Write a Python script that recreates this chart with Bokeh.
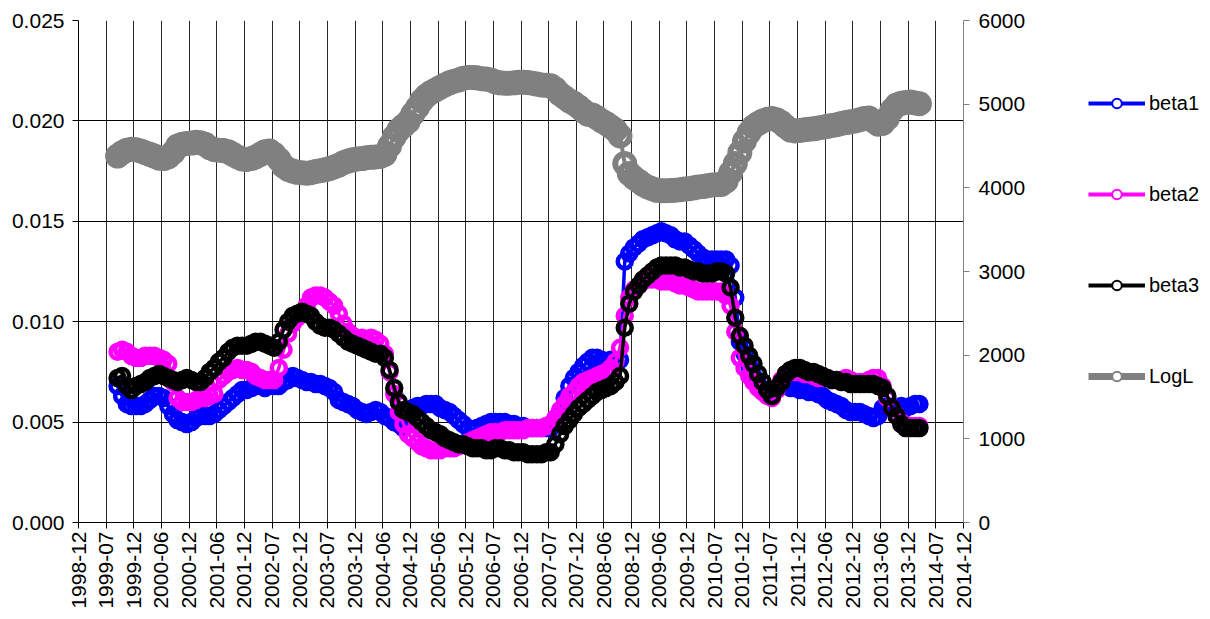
import math

import pandas as pd
from bokeh.embed import file_html
from bokeh.layouts import row
from bokeh.models import (ColumnDataSource, CustomJSTickFormatter, FixedTicker,
                          Legend, LegendItem, LinearAxis, NumeralTickFormatter,
                          Range1d)
from bokeh.plotting import figure
from bokeh.resources import INLINE

FONT = "Liberation Sans"

# time axis: 1998-12-31 .. 2014-12-31, 32 equal steps
AXIS_START = pd.Timestamp("1998-12-31")
AXIS_END = pd.Timestamp("2014-12-31")
x_tick_labels = [
    "1998-12", "1999-07", "1999-12", "2000-06", "2000-12", "2001-06", "2001-12",
    "2002-07", "2002-12", "2003-07", "2003-12", "2004-06", "2004-12", "2005-06",
    "2005-12", "2006-07", "2006-12", "2007-07", "2007-12", "2008-06", "2008-12",
    "2009-06", "2009-12", "2010-07", "2010-12", "2011-07", "2011-12", "2012-06",
    "2012-12", "2013-06", "2013-12", "2014-07", "2014-12",
]
left_ticks = [0.0, 0.005, 0.01, 0.015, 0.02, 0.025]
right_ticks = [0, 1000, 2000, 3000, 4000, 5000, 6000]

# monthly estimates, Sep 1999 .. Mar 2014
months = pd.date_range("1999-09-01", "2014-03-01", freq="MS") + pd.Timedelta(days=14)

beta1 = [
    0.0068, 0.0063, 0.0059, 0.0058,
    0.0058, 0.0058, 0.0059, 0.0061, 0.0063, 0.0063, 0.0062, 0.0058, 0.0054, 0.0051, 0.0050, 0.0049,
    0.0050, 0.0052, 0.0053, 0.0053, 0.0053, 0.0054, 0.0056, 0.0058, 0.0060, 0.0062, 0.0064, 0.0066,
    0.0066, 0.0067, 0.0068, 0.0068, 0.0067, 0.0069, 0.0068, 0.0068, 0.0070, 0.0071, 0.0073, 0.0072,
    0.0071, 0.0070, 0.0070, 0.0069, 0.0069, 0.0068, 0.0067, 0.0065, 0.0061, 0.0060, 0.0059, 0.0058,
    0.0056, 0.0055, 0.0054, 0.0055, 0.0056, 0.0055, 0.0053, 0.0052, 0.0050, 0.0049, 0.0047, 0.0052,
    0.0057, 0.0058, 0.0058, 0.0059, 0.0059, 0.0059, 0.0057, 0.0056, 0.0055, 0.0053, 0.0051, 0.0049,
    0.0047, 0.0046, 0.0047, 0.0048, 0.0049, 0.0050, 0.0050, 0.0050, 0.0050, 0.0049, 0.0049, 0.0048,
    0.0048, 0.0047, 0.0047, 0.0047, 0.0047, 0.0047, 0.0047, 0.0049, 0.0055, 0.0062, 0.0068, 0.0072,
    0.0075, 0.0078, 0.0080, 0.0082, 0.0082, 0.0081, 0.0080, 0.0081, 0.0080, 0.0081, 0.0130, 0.0134,
    0.0137, 0.0139, 0.0141, 0.0142, 0.0143, 0.0144, 0.0145, 0.0144, 0.0143, 0.0141, 0.0140, 0.0140,
    0.0138, 0.0136, 0.0134, 0.0132, 0.0131, 0.0131, 0.0131, 0.0131, 0.0131, 0.0128, 0.0112, 0.0090,
    0.0084, 0.0078, 0.0073, 0.0069, 0.0066, 0.0064, 0.0063, 0.0066, 0.0068, 0.0068, 0.0067, 0.0067,
    0.0066, 0.0066, 0.0065, 0.0065, 0.0064, 0.0063, 0.0061, 0.0060, 0.0059, 0.0058, 0.0056, 0.0055,
    0.0055, 0.0055, 0.0054, 0.0053, 0.0052, 0.0053, 0.0057, 0.0058, 0.0057, 0.0057, 0.0058, 0.0057,
    0.0058, 0.0059, 0.0059,
]

beta2 = [
    0.0085, 0.0086, 0.0085, 0.0083,
    0.0082, 0.0082, 0.0083, 0.0083, 0.0083, 0.0082, 0.0081, 0.0079, 0.0070, 0.0062, 0.0060, 0.0060,
    0.0060, 0.0061, 0.0062, 0.0062, 0.0063, 0.0064, 0.0071, 0.0073, 0.0075, 0.0076, 0.0077, 0.0076,
    0.0076, 0.0075, 0.0073, 0.0072, 0.0071, 0.0071, 0.0071, 0.0077, 0.0086, 0.0094, 0.0099, 0.0102,
    0.0104, 0.0108, 0.0112, 0.0113, 0.0113, 0.0112, 0.0110, 0.0108, 0.0104, 0.0099, 0.0095, 0.0093,
    0.0092, 0.0092, 0.0091, 0.0092, 0.0091, 0.0089, 0.0084, 0.0075, 0.0064, 0.0055, 0.0049, 0.0044,
    0.0042, 0.0040, 0.0038, 0.0037, 0.0036, 0.0036, 0.0036, 0.0037, 0.0037, 0.0037, 0.0038, 0.0039,
    0.0040, 0.0041, 0.0042, 0.0043, 0.0044, 0.0045, 0.0045, 0.0045, 0.0046, 0.0046, 0.0046, 0.0046,
    0.0046, 0.0047, 0.0047, 0.0047, 0.0047, 0.0048, 0.0049, 0.0052, 0.0056, 0.0059, 0.0063, 0.0065,
    0.0068, 0.0070, 0.0071, 0.0072, 0.0073, 0.0074, 0.0075, 0.0077, 0.0080, 0.0087, 0.0103, 0.0112,
    0.0116, 0.0118, 0.0120, 0.0121, 0.0121, 0.0121, 0.0120, 0.0120, 0.0120, 0.0119, 0.0118, 0.0118,
    0.0117, 0.0116, 0.0115, 0.0115, 0.0115, 0.0115, 0.0115, 0.0115, 0.0113, 0.0108, 0.0095, 0.0082,
    0.0077, 0.0073, 0.0070, 0.0067, 0.0065, 0.0063, 0.0062, 0.0066, 0.0071, 0.0074, 0.0075, 0.0075,
    0.0075, 0.0074, 0.0074, 0.0073, 0.0072, 0.0072, 0.0072, 0.0071, 0.0071, 0.0071, 0.0072, 0.0071,
    0.0070, 0.0070, 0.0070, 0.0071, 0.0072, 0.0072, 0.0068, 0.0062, 0.0057, 0.0053, 0.0050, 0.0048,
    0.0048, 0.0048, 0.0048,
]

beta3 = [
    0.0072, 0.0073, 0.0068, 0.0066,
    0.0068, 0.0069, 0.0070, 0.0072, 0.0073, 0.0074, 0.0073, 0.0072, 0.0071, 0.0070, 0.0071, 0.0072,
    0.0071, 0.0070, 0.0070, 0.0072, 0.0075, 0.0077, 0.0080, 0.0082, 0.0085, 0.0087, 0.0088, 0.0088,
    0.0088, 0.0089, 0.0090, 0.0090, 0.0089, 0.0088, 0.0087, 0.0090, 0.0096, 0.0100, 0.0103, 0.0104,
    0.0105, 0.0104, 0.0103, 0.0100, 0.0098, 0.0097, 0.0097, 0.0096, 0.0094, 0.0092, 0.0090, 0.0089,
    0.0088, 0.0087, 0.0086, 0.0085, 0.0084, 0.0084, 0.0082, 0.0076, 0.0067, 0.0060, 0.0056, 0.0055,
    0.0054, 0.0052, 0.0050, 0.0048, 0.0046, 0.0045, 0.0044, 0.0042, 0.0041, 0.0040, 0.0039, 0.0039,
    0.0038, 0.0037, 0.0037, 0.0037, 0.0036, 0.0036, 0.0037, 0.0037, 0.0036, 0.0036, 0.0035, 0.0035,
    0.0035, 0.0034, 0.0034, 0.0034, 0.0034, 0.0035, 0.0035, 0.0039, 0.0044, 0.0048, 0.0051, 0.0054,
    0.0057, 0.0059, 0.0061, 0.0063, 0.0065, 0.0066, 0.0067, 0.0068, 0.0070, 0.0073, 0.0097, 0.0109,
    0.0115, 0.0118, 0.0121, 0.0123, 0.0125, 0.0127, 0.0128, 0.0128, 0.0128, 0.0128, 0.0127, 0.0127,
    0.0126, 0.0125, 0.0125, 0.0124, 0.0124, 0.0124, 0.0125, 0.0125, 0.0124, 0.0117, 0.0102, 0.0093,
    0.0088, 0.0083, 0.0079, 0.0074, 0.0070, 0.0066, 0.0063, 0.0067, 0.0070, 0.0074, 0.0076, 0.0077,
    0.0077, 0.0076, 0.0075, 0.0075, 0.0074, 0.0073, 0.0072, 0.0071, 0.0071, 0.0070, 0.0070, 0.0069,
    0.0069, 0.0069, 0.0069, 0.0069, 0.0069, 0.0068, 0.0067, 0.0063, 0.0057, 0.0053, 0.0049, 0.0047,
    0.0047, 0.0047, 0.0047,
]

logl = [
    4380, 4420, 4450, 4460,
    4455, 4440, 4420, 4400, 4380, 4355, 4350, 4370, 4420, 4500, 4520, 4530,
    4535, 4545, 4540, 4520, 4480, 4455, 4450, 4445, 4430, 4400, 4370, 4345,
    4340, 4350, 4370, 4400, 4430, 4440, 4400, 4340, 4260, 4220, 4200, 4185,
    4180, 4175, 4180, 4195, 4205, 4215, 4230, 4250, 4270, 4300, 4320, 4335,
    4345, 4350, 4360, 4365, 4370, 4375, 4400, 4500, 4610, 4690, 4740, 4790,
    4880, 4960, 5040, 5100, 5140, 5170, 5200, 5230, 5255, 5275, 5290, 5310,
    5320, 5320, 5315, 5305, 5300, 5290, 5265, 5255, 5250, 5250, 5255, 5262,
    5262, 5258, 5250, 5240, 5230, 5225, 5220, 5180, 5120, 5080, 5040, 5010,
    4970, 4920, 4880, 4870, 4840, 4800, 4770, 4730, 4690, 4620, 4290, 4170,
    4120, 4080, 4040, 4010, 3990, 3970, 3965, 3965, 3968, 3972, 3978, 3985,
    3990, 4000, 4010, 4015, 4025, 4035, 4038, 4040, 4080, 4180, 4290, 4420,
    4560, 4660, 4730, 4770, 4800, 4820, 4830, 4815, 4780, 4730, 4690, 4680,
    4685, 4695, 4700, 4705, 4715, 4725, 4735, 4745, 4755, 4770, 4780, 4790,
    4800, 4815, 4830, 4835, 4800, 4760, 4770, 4830, 4930, 4990, 5010, 5020,
    5025, 5015, 5005,
]

# x positions in days since the axis origin
span_days = (AXIS_END - AXIS_START).days
tick_step = span_days / (len(x_tick_labels) - 1)
x_ticks = [i * tick_step for i in range(len(x_tick_labels))]
days = [(d - AXIS_START).days for d in months]

source = ColumnDataSource(dict(x=days, beta1=beta1, beta2=beta2, beta3=beta3, logl=logl))

# main chart (left part of the page)
p = figure(
    width=1030, height=619, output_backend="svg", toolbar_location=None,
    x_range=Range1d(0, span_days), y_range=Range1d(0, 0.025),
    min_border_left=78, min_border_right=67, min_border_top=20, min_border_bottom=97,
)
p.extra_y_ranges = {"logl": Range1d(0, 6000)}
p.background_fill_color = "white"
p.border_fill_color = "white"
p.outline_line_color = None

# grid
p.xgrid.ticker = FixedTicker(ticks=x_ticks)
p.xgrid.grid_line_color = "#2a2a2a"
p.xgrid.grid_line_width = 1
p.ygrid.ticker = FixedTicker(ticks=left_ticks)
p.ygrid.grid_line_color = "black"
p.ygrid.grid_line_width = 1


def style_axis(ax, color="black"):
    ax.axis_line_color = color
    ax.axis_line_width = 1
    ax.major_tick_line_color = color
    ax.major_tick_out = 6
    ax.major_tick_in = 0
    ax.minor_tick_line_color = None
    ax.major_label_text_font = FONT
    ax.major_label_text_font_size = "21px"
    ax.major_label_text_color = "black"


xax = p.xaxis[0]
xax.ticker = FixedTicker(ticks=x_ticks)
xax.formatter = CustomJSTickFormatter(
    args=dict(labels=x_tick_labels, step=tick_step),
    code="return labels[Math.round(tick / step)];",
)
xax.major_label_orientation = math.pi / 2
xax.major_label_standoff = 3
style_axis(xax)

yax = p.yaxis[0]
yax.ticker = FixedTicker(ticks=left_ticks)
yax.formatter = NumeralTickFormatter(format="0.000")
yax.major_label_standoff = 8
style_axis(yax)

rax = LinearAxis(y_range_name="logl", ticker=FixedTicker(ticks=right_ticks),
                 formatter=NumeralTickFormatter(format="0"))
rax.major_label_standoff = 9
style_axis(rax, "#808080")
p.add_layout(rax, "right")

# legend panel (right part of the page)
key_fig = figure(
    width=180, height=619, output_backend="svg", toolbar_location=None,
    x_range=Range1d(0, 1), y_range=Range1d(0, 1),
    x_axis_location=None, y_axis_location=None, min_border=0,
)
key_fig.grid.visible = False
key_fig.outline_line_color = None
key_fig.background_fill_color = "white"
key_fig.border_fill_color = "white"

series = [
    ("beta1", "beta1", "#0000FF", "default", 14, 4.5, 3.5, 4),
    ("beta2", "beta2", "#FF00FF", "default", 14, 4.5, 3.5, 4),
    ("beta3", "beta3", "#000000", "default", 14, 4.5, 3.5, 4),
    ("LogL", "logl", "#808080", "logl", 19, 6, 4, 7),
]

items = []
for label, col, color, yr, msize, mwidth, lwidth, legend_lw in series:
    kw = {} if yr == "default" else {"y_range_name": yr}
    p.line("x", col, source=source, line_color=color, line_width=lwidth,
           line_join="round", **kw)
    p.scatter("x", col, source=source, marker="circle", size=msize,
              line_color=color, line_width=mwidth, fill_color=None, **kw)
    # legend key: thick line with a small open circle
    key_src = ColumnDataSource(dict(x=[float("nan")], y=[float("nan")]))
    key_line = key_fig.line("x", "y", source=key_src, line_color=color, line_width=legend_lw)
    key_dot = key_fig.scatter("x", "y", source=key_src, marker="circle", size=10,
                              line_color=color, line_width=2, fill_color="white")
    items.append(LegendItem(label=label, renderers=[key_line, key_dot]))

legend = Legend(
    items=items, location=(58, 134), orientation="vertical",
    glyph_width=57, glyph_height=24, label_height=24, spacing=67,
    label_standoff=4, padding=0, margin=0,
    border_line_color=None, background_fill_alpha=0,
    label_text_font=FONT, label_text_font_size="20px", label_text_color="black",
)
key_fig.add_layout(legend)

layout = row(p, key_fig, spacing=0)
open("out.html", "w").write(file_html(layout, INLINE))
